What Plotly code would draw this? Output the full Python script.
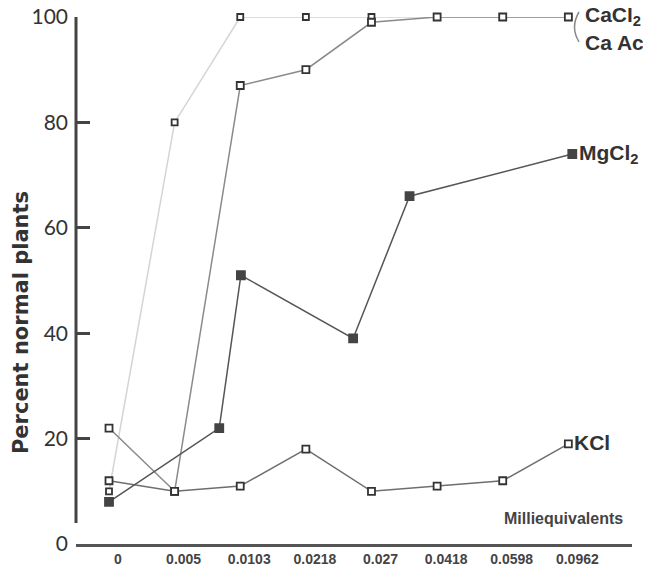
import plotly.graph_objects as go

# Categories (tick labels) placed at equally spaced positions 0..7
tick_labels = ["0", "0.005", "0.0103", "0.0218", "0.027", "0.0418", "0.0598", "0.0962"]
tick_pos = [0, 1, 2, 3, 4, 5, 6, 7]

# Series values (percent normal plants)
cacl2_x = [0, 1, 2, 3, 4, 5, 6, 7]
cacl2_y = [10, 80, 100, 100, 100, 100, 100, 100]

caac_x = [0, 1, 2, 3, 4, 5, 6, 7]
caac_y = [22, 10, 87, 90, 99, 100, 100, 100]

mgcl2_x = [0, 1.68, 2.01, 3.72, 4.58, 7.06]
mgcl2_y = [8, 22, 51, 39, 66, 74]

kcl_x = [0, 1, 2, 3, 4, 5, 6, 7]
kcl_y = [12, 10, 11, 18, 10, 11, 12, 19]

fig = go.Figure()

def add(x, y, name, line_color, fill, border, size):
    fig.add_trace(go.Scatter(
        x=x, y=y, name=name, mode="lines+markers",
        line=dict(color=line_color, width=1.5),
        marker=dict(symbol="square", size=size, color=fill,
                    line=dict(color=border, width=1.8)),
        cliponaxis=False, showlegend=False))

add(cacl2_x, cacl2_y, "CaCl2", "#d4d4d4", "#ffffff", "#333333", 6)
add(caac_x, caac_y, "Ca Ac", "#8a8a8a", "#ffffff", "#333333", 7)
add(kcl_x, kcl_y, "KCl", "#6e6e6e", "#ffffff", "#333333", 7)
add(mgcl2_x, mgcl2_y, "MgCl2", "#555555", "#444444", "#444444", 8)

lab_font = dict(family="Liberation Sans", size=21, color="#333333", weight="bold")
fig.add_annotation(x=cacl2_x[-1], y=cacl2_y[-1], text="CaCl<sub>2</sub>", showarrow=False,
                   xanchor="left", yanchor="middle", xshift=15, yshift=1, font=lab_font)
fig.add_annotation(x=caac_x[-1], y=caac_y[-1], text="Ca Ac", showarrow=False,
                   xanchor="left", yanchor="middle", xshift=15, yshift=-25, font=lab_font)
fig.add_annotation(x=mgcl2_x[-1], y=mgcl2_y[-1], text="MgCl<sub>2</sub>", showarrow=False,
                   xanchor="left", yanchor="middle", xshift=5, yshift=0, font=lab_font)
fig.add_annotation(x=kcl_x[-1], y=kcl_y[-1], text="KCl", showarrow=False,
                   xanchor="left", yanchor="middle", xshift=4, yshift=1, font=lab_font)

# bracket joining CaCl2 / Ca Ac labels
fig.add_shape(type="path", xref="paper", yref="paper",
              path="M 0.9047,1.0095 Q 0.8885,0.981 0.9047,0.9526",
              line=dict(color="#888888", width=1.5))

# y axis line (stops short of the x axis)
fig.add_shape(type="line", xref="paper", yref="y", x0=0, x1=0, y0=4, y1=100,
              line=dict(color="#444444", width=3))

fig.add_annotation(xref="paper", yref="paper", x=0.876, y=0.049, text="Milliequivalents",
                   showarrow=False, xanchor="center", yanchor="middle",
                   font=dict(family="Liberation Sans", size=16, color="#444444", weight="bold"))

fig.add_annotation(xref="paper", yref="paper", x=-0.10, y=0.42, text="Percent normal plants",
                   showarrow=False, textangle=-90, xanchor="center", yanchor="middle",
                   font=dict(family="DejaVu Sans", size=21, color="#333333", weight="bold"))

fig.update_layout(
    width=643, height=558,
    margin=dict(l=68, r=19, t=9, b=22),
    paper_bgcolor="white", plot_bgcolor="white",
    xaxis=dict(range=[-0.503, 7.97], tickvals=tick_pos, ticktext=tick_labels,
               showgrid=False, zeroline=False, showline=True, linecolor="#555555",
               linewidth=3, ticks="", ticklabelshift=9, ticklabelstandoff=0,
               ticklabeloverflow="allow",
               tickfont=dict(family="Liberation Sans", size=14, color="#444444", weight="bold"),
               automargin=False),
    yaxis=dict(range=[0, 100], tickvals=[0, 20, 40, 60, 80, 100],
               showgrid=False, zeroline=False, showline=False,
               ticks="inside", ticklen=14, tickwidth=3, tickcolor="#444444",
               ticklabelstandoff=7, ticklabeloverflow="allow",
               tickfont=dict(family="Lato", size=21, color="#333333"),
               automargin=False),
)

fig.write_html("out.html")
